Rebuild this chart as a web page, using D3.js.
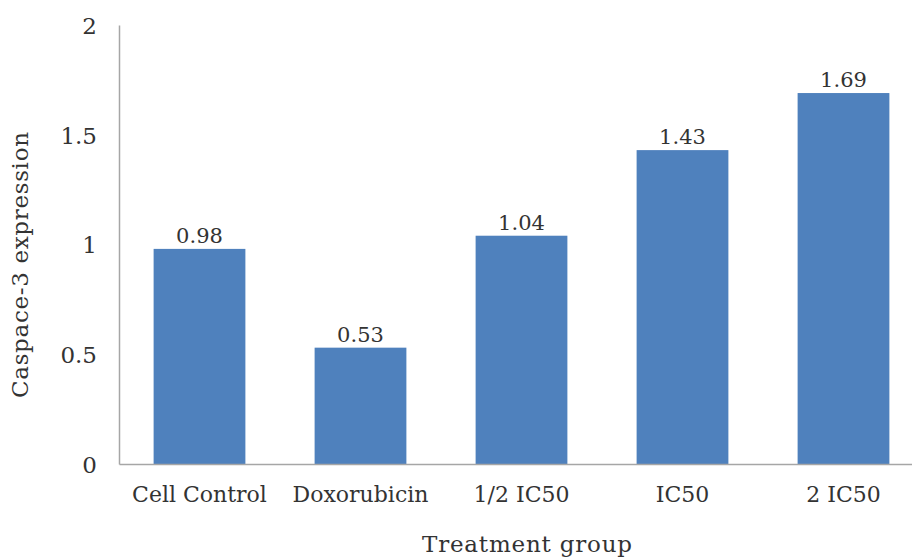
<!DOCTYPE html>
<html><head><meta charset="utf-8">
<script src="https://cdn.jsdelivr.net/npm/d3@7"></script>
<style>body{margin:0;background:#fff}svg{display:block}</style>
</head><body>
<svg id="c" width="912" height="559"></svg>
<script>
const categories = ["Cell Control","Doxorubicin","1/2 IC50","IC50","2 IC50"];
const values = [0.98,0.53,1.04,1.43,1.69];
const yTicks = [0,0.5,1,1.5,2];
const yTickLabels = ["0","0.5","1","1.5","2"];

(function(){
const svg = d3.select("#c");
const FN = "'DejaVu Serif',serif";
const TC = "#333333";
const mLeft = 119, mRight = 924, mTop = 25, mBottom = 464;
const x = d3.scaleBand().domain(categories).range([mLeft,mRight]).paddingInner(0.43).paddingOuter(0.215);
const y = d3.scaleLinear().domain([0,2]).range([mBottom,mTop]);

svg.append("g").selectAll("rect").data(values).join("rect")
  .attr("x",(d,i)=>x(categories[i])).attr("width",x.bandwidth())
  .attr("y",d=>y(d)).attr("height",d=>mBottom-y(d)).attr("fill","#4f81bd");

svg.append("g").selectAll("text").data(values).join("text")
  .attr("x",(d,i)=>x(categories[i])+x.bandwidth()/2).attr("y",d=>y(d)-6)
  .attr("text-anchor","middle").attr("font-family",FN).attr("font-size",21).attr("fill",TC)
  .text(d=>d.toFixed(2));

const ya = svg.append("g").attr("transform",`translate(${mLeft},0)`)
  .call(d3.axisLeft(y).tickValues(yTicks).tickFormat((d,i)=>yTickLabels[i]).tickSize(0).tickPadding(22));
ya.select(".domain").attr("stroke","#a6a6a6").attr("stroke-width",1.5);
ya.selectAll("text").attr("font-family",FN).attr("font-size",23).attr("fill",TC).attr("dy","0.36em");

const xa = svg.append("g").attr("transform",`translate(0,${mBottom})`)
  .call(d3.axisBottom(x).tickSize(0));
xa.select(".domain").attr("stroke","#a6a6a6").attr("stroke-width",1.5);
xa.selectAll("text").attr("font-family",FN).attr("font-size",22).attr("fill",TC)
  .attr("y",38).attr("dy",null);

svg.append("text").attr("x",527).attr("y",552).attr("text-anchor","middle")
  .attr("font-family",FN).attr("font-size",23).attr("fill",TC)
  .attr("textLength",210).attr("lengthAdjust","spacing").text("Treatment  group");
svg.append("text").attr("transform","translate(28,265) rotate(-90)").attr("text-anchor","middle")
  .attr("font-family",FN).attr("font-size",23).attr("fill",TC)
  .attr("textLength",266).attr("lengthAdjust","spacing").text("Caspace-3  expression");
})();
</script>
</body></html>
